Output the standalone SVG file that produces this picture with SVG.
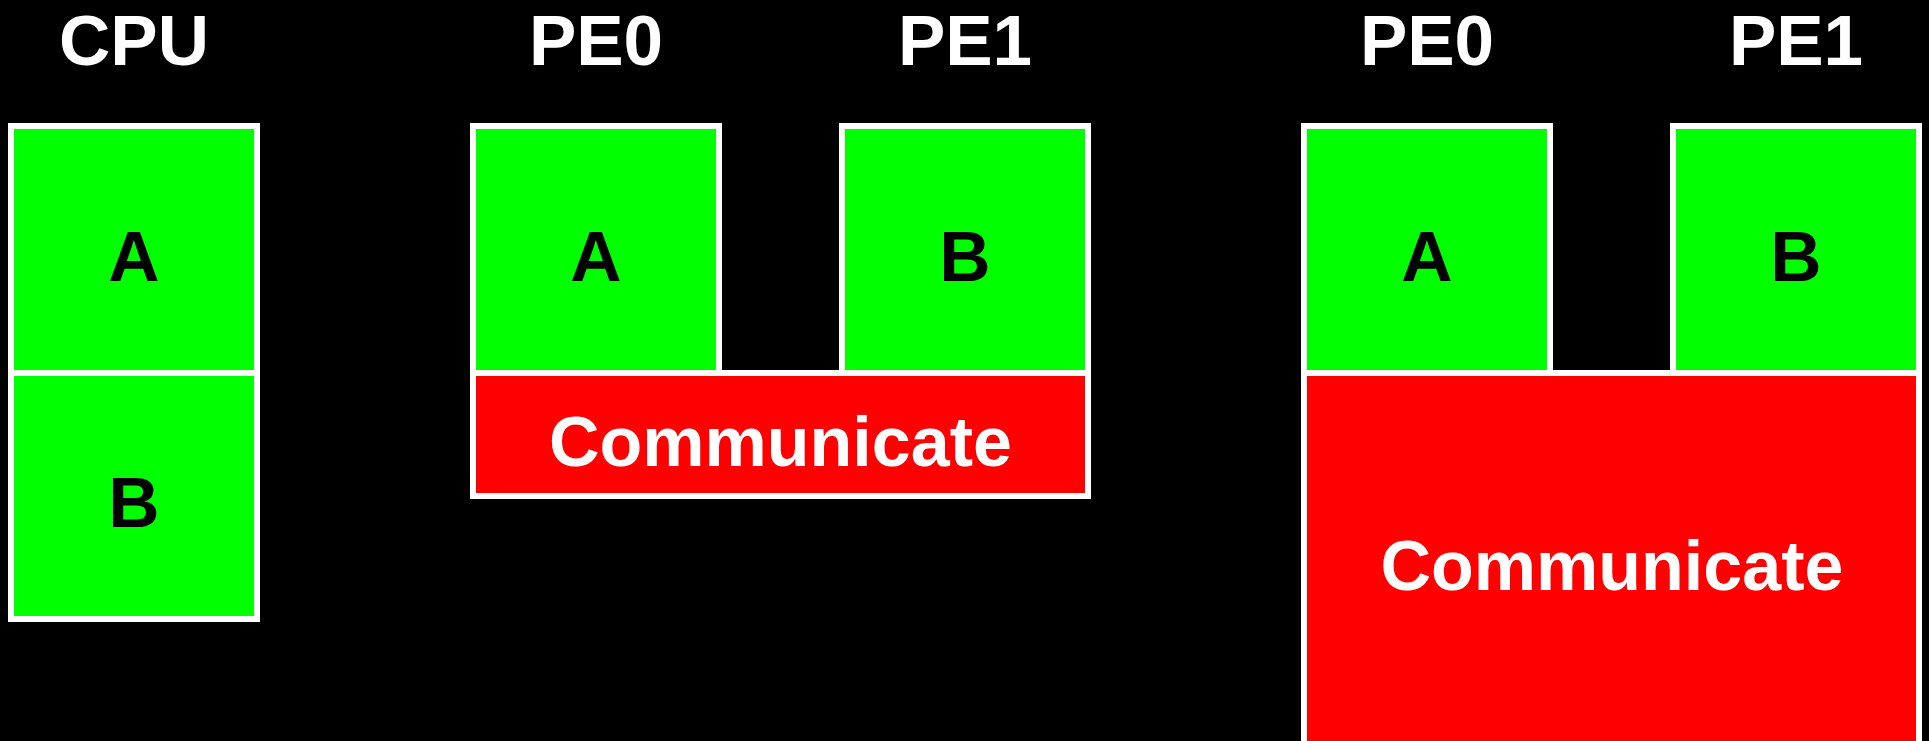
<svg xmlns="http://www.w3.org/2000/svg" width="1929" height="741" viewBox="0 0 1929 741">
  <style>
    .frame { fill: #ffffff; }
    .task { fill: #00ff00; }
    .comm { fill: #ff0000; }
    text { font-family: "Liberation Sans", Arial, sans-serif; font-weight: bold; text-anchor: middle; }
    .title { font-size: 71px; fill: #ffffff; }
    .label { font-size: 71px; fill: #000000; }
    .commtext { font-size: 70px; fill: #ffffff; }
  </style>

  <rect x="0" y="0" width="1929" height="741" fill="#000000"/>

  <!-- Single CPU: A then B -->
  <g id="cpu">
    <text class="title" x="134" y="65">CPU</text>
    <rect class="frame" x="8" y="123" width="252" height="499"/>
    <g id="cpu-a">
      <rect class="task" x="14" y="129" width="240" height="241"/>
      <text class="label" x="134" y="281">A</text>
    </g>
    <g id="cpu-b">
      <rect class="task" x="14" y="376" width="240" height="240"/>
      <text class="label" x="134" y="527">B</text>
    </g>
  </g>

  <!-- Two PEs, short communication -->
  <g id="pair-short">
    <text class="title" x="596" y="65">PE0</text>
    <text class="title" x="965" y="65">PE1</text>
    <rect class="frame" x="470" y="123" width="252" height="253"/>
    <rect class="frame" x="839" y="123" width="252" height="253"/>
    <rect class="frame" x="470" y="370" width="621" height="129"/>
    <g id="short-pe0-a">
      <rect class="task" x="476" y="129" width="240" height="241"/>
      <text class="label" x="596" y="281">A</text>
    </g>
    <g id="short-pe1-b">
      <rect class="task" x="845" y="129" width="240" height="241"/>
      <text class="label" x="965" y="281">B</text>
    </g>
    <g id="short-comm">
      <rect class="comm" x="476" y="376" width="609" height="117"/>
      <text class="commtext" x="780.5" y="466">Communicate</text>
    </g>
  </g>

  <!-- Two PEs, long communication -->
  <g id="pair-long">
    <text class="title" x="1427" y="65">PE0</text>
    <text class="title" x="1796" y="65">PE1</text>
    <rect class="frame" x="1301" y="123" width="252" height="253"/>
    <rect class="frame" x="1670" y="123" width="252" height="253"/>
    <rect class="frame" x="1301" y="370" width="621" height="380"/>
    <g id="long-pe0-a">
      <rect class="task" x="1307" y="129" width="240" height="241"/>
      <text class="label" x="1427" y="281">A</text>
    </g>
    <g id="long-pe1-b">
      <rect class="task" x="1676" y="129" width="240" height="241"/>
      <text class="label" x="1796" y="281">B</text>
    </g>
    <g id="long-comm">
      <rect class="comm" x="1307" y="376" width="609" height="375"/>
      <text class="commtext" x="1612" y="590">Communicate</text>
    </g>
  </g>
</svg>
